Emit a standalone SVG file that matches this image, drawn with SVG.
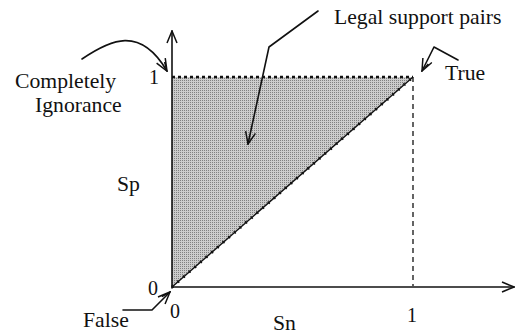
<svg xmlns="http://www.w3.org/2000/svg" width="516" height="335" viewBox="0 0 516 335">
<style>
.t{font-size:21.7px;fill:#111}
.num{font-size:20px}
.ln{fill:none;stroke:#111;stroke-width:1.6;stroke-linecap:round;stroke-linejoin:round}
</style>
<defs>
<pattern id="stip" width="2" height="2" patternUnits="userSpaceOnUse">
<rect width="2" height="2" fill="#cccccc"/>
<rect width="1" height="1" fill="#808080"/>
</pattern>
<marker id="vh" viewBox="0 0 14 12" refX="13" refY="6" markerWidth="14" markerHeight="12" markerUnits="userSpaceOnUse" orient="auto">
<path d="M1,1 L13,6 L1,11" fill="none" stroke="#111" stroke-width="1.5"/>
</marker>
<marker id="vh2" viewBox="0 0 14 12" refX="13" refY="6" markerWidth="14" markerHeight="12" markerUnits="userSpaceOnUse" orient="auto">
<path d="M1,1 L13,6 L1,11 M4,3.5 L13,6" fill="none" stroke="#111" stroke-width="1.5"/>
</marker>
</defs>
<g id="region">
<polygon points="172,77 413,77 172,287" fill="url(#stip)"/>
<line x1="172" y1="77" x2="413" y2="77" stroke="#111" stroke-width="2.5" stroke-dasharray="3,3"/>
<line x1="172" y1="287" x2="413" y2="77" stroke="#111" stroke-width="1.4"/>
<line x1="172" y1="287" x2="413" y2="77" stroke="#111" stroke-width="3" stroke-dasharray="1.5,6"/>
<line x1="413" y1="77" x2="413" y2="286" stroke="#111" stroke-width="1.3" stroke-dasharray="5,4"/>
</g>
<g id="axes">
<line class="ln" x1="172" y1="288" x2="172" y2="31" marker-end="url(#vh)"/>
<line class="ln" x1="172" y1="287" x2="514" y2="287" marker-end="url(#vh)"/>
</g>
<g font-family="'Liberation Serif', 'DejaVu Serif', serif">
<g id="labels">
<text x="149" y="84" class="t num">1</text>
<text x="148" y="295" class="t num">0</text>
<text x="170" y="318" class="t num">0</text>
<text x="407" y="322" class="t num">1</text>
<text x="117" y="191" class="t">Sp</text>
<text x="273" y="330" class="t">Sn</text>
</g>
<g id="completely-ignorance">
<text x="15" y="88" class="t">Completely</text>
<text x="35" y="112" class="t">Ignorance</text>
</g>
<g id="legal-support-pairs">
<text x="334" y="24" class="t">Legal support pairs</text>
</g>
<g id="true">
<text x="445" y="80" class="t">True</text>
</g>
<g id="false">
<text x="83" y="327" class="t">False</text>
</g>
</g>
<g id="connectors">
<path class="ln" d="M82,59 C110,40 140,25 167,71" marker-end="url(#vh2)"/>
<path class="ln" d="M318,11 L269,47 L248,144" marker-end="url(#vh)"/>
<path class="ln" d="M458,60 L434,47 L422,71" marker-end="url(#vh2)"/>
<path class="ln" d="M123,310 L152,310 L170,292" marker-end="url(#vh2)"/>
</g>
</svg>
